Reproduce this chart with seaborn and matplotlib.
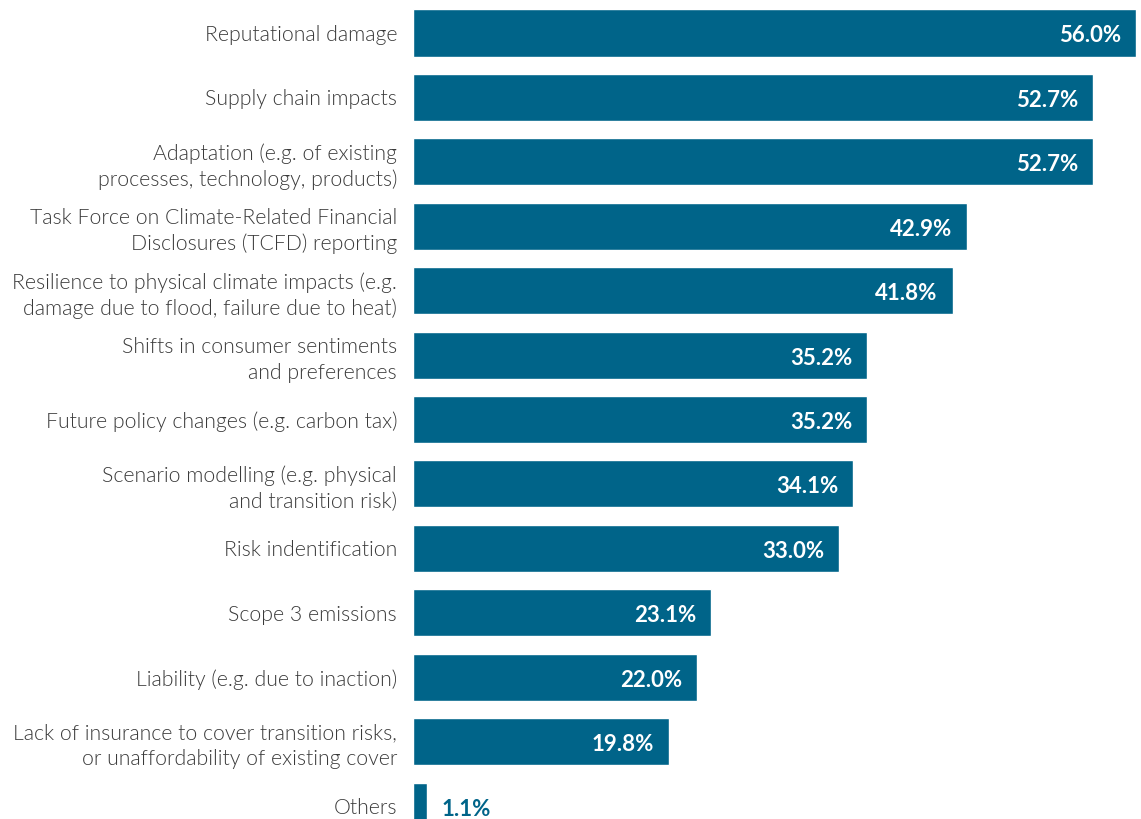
import matplotlib
matplotlib.use("Agg")
import matplotlib.pyplot as plt
import seaborn as sns
import pandas as pd

categories = [
    "Reputational damage",
    "Supply chain impacts",
    "Adaptation (e.g. of existing\nprocesses, technology, products)",
    "Task Force on Climate-Related Financial\nDisclosures (TCFD) reporting",
    "Resilience to physical climate impacts (e.g.\ndamage due to flood, failure due to heat)",
    "Shifts in consumer sentiments\nand preferences",
    "Future policy changes (e.g. carbon tax)",
    "Scenario modelling (e.g. physical\nand transition risk)",
    "Risk indentification",
    "Scope 3 emissions",
    "Liability (e.g. due to inaction)",
    "Lack of insurance to cover transition risks,\nor unaffordability of existing cover",
    "Others",
]
values = [56.0, 52.7, 52.7, 42.9, 41.8, 35.2, 35.2, 34.1, 33.0, 23.1, 22.0, 19.8, 1.1]

bar_color = "#006489"
label_color = "#3a3a3a"

df = pd.DataFrame({"item": categories, "pct": values})

sns.set_style("white")
plt.rcParams["font.family"] = ["Lato", "DejaVu Sans"]

fig = plt.figure(figsize=(11.41, 8.19), dpi=100)
ax = fig.add_axes([413 / 1141, 0, (1136 - 413) / 1141, 1])

sns.barplot(data=df, x="pct", y="item", orient="h", color=bar_color,
            width=0.73, saturation=1, ax=ax)

ax.set_xlim(0, 56)
ax.set_ylim(12.20, -0.512)
ax.set_xlabel("")
ax.set_ylabel("")
ax.set_xticks([])
sns.despine(ax=ax, left=True, bottom=True)
ax.tick_params(axis="y", length=0, pad=11.5)
for lbl in ax.get_yticklabels():
    lbl.set_fontsize(15.3)
    lbl.set_fontweight(300)
    lbl.set_color(label_color)
    lbl.set_horizontalalignment("right")
    lbl.set_linespacing(1.35)

for i, v in enumerate(values):
    txt = f"{v:.1f}%"
    if v > 5:
        ax.annotate(txt, (v, i), xytext=(-15, -3), textcoords="offset pixels",
                    ha="right", va="center", color="white",
                    fontsize=16, fontweight="bold")
    else:
        ax.annotate(txt, (v, i), xytext=(14, -3), textcoords="offset pixels",
                    ha="left", va="center", color=bar_color,
                    fontsize=16, fontweight="bold")

fig.savefig("out.png", dpi=100)
